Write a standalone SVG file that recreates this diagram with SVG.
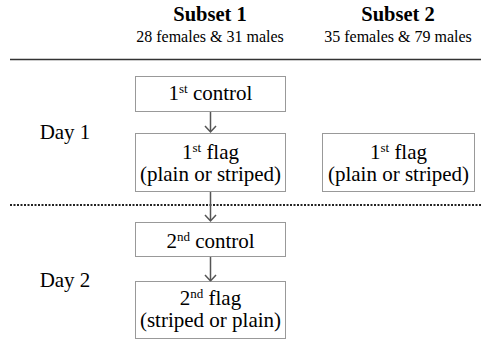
<svg xmlns="http://www.w3.org/2000/svg" width="481" height="346" viewBox="0 0 481 346">
<style>
text{font-family:"Liberation Serif","Times New Roman",serif;fill:#000}
.h{font-size:20.5px;font-weight:bold}
.s{font-size:16px}
.t{font-size:21px}
.p{font-size:21px}
.d{font-size:21px}
.sup{font-size:13px}
.box{fill:#fff;stroke:#333;stroke-width:1;stroke-dasharray:1 1}
.c{stroke:#555;stroke-width:1.5;fill:none}
</style>
<text class="h" x="210" y="21" text-anchor="middle">Subset 1</text>
<text class="s" x="210" y="42" text-anchor="middle">28 females &amp; 31 males</text>
<text class="h" x="398" y="21" text-anchor="middle">Subset 2</text>
<text class="s" x="398" y="42" text-anchor="middle">35 females &amp; 79 males</text>
<line x1="10" y1="59.5" x2="481" y2="59.5" stroke="#333" stroke-width="1.5"/>
<line x1="10" y1="205" x2="481" y2="205" stroke="#222" stroke-width="2" stroke-dasharray="2 1.5"/>
<text class="d" x="65" y="139" text-anchor="middle">Day 1</text>
<text class="d" x="65" y="287" text-anchor="middle">Day 2</text>
<g id="connectors">
<path class="c" d="M210.5 112V132M205 126L210.5 132L216 126"/>
<path class="c" d="M210.5 192V221M205 215L210.5 221L216 215"/>
<path class="c" d="M210.5 257V281M205 275L210.5 281L216 275"/>
</g>
<g id="n1"><rect class="box" x="135.5" y="76.5" width="150" height="35"/>
<text class="t" x="210.5" y="100" text-anchor="middle">1<tspan class="sup" dy="-7">st</tspan><tspan dy="7"> control</tspan></text></g>
<g id="n2"><rect class="box" x="135.5" y="133.5" width="150" height="58"/>
<text class="t" x="210.5" y="159" text-anchor="middle">1<tspan class="sup" dy="-7">st</tspan><tspan dy="7"> flag</tspan></text>
<text class="p" x="210.5" y="181" text-anchor="middle">(plain or striped)</text></g>
<g id="n3"><rect class="box" x="322.5" y="133.5" width="152" height="58"/>
<text class="t" x="398.5" y="159" text-anchor="middle">1<tspan class="sup" dy="-7">st</tspan><tspan dy="7"> flag</tspan></text>
<text class="p" x="398.5" y="181" text-anchor="middle">(plain or striped)</text></g>
<g id="n4"><rect class="box" x="135.5" y="222.5" width="150" height="34"/>
<text class="t" x="210.5" y="248" text-anchor="middle">2<tspan class="sup" dy="-7">nd</tspan><tspan dy="7"> control</tspan></text></g>
<g id="n5"><rect class="box" x="135.5" y="281.5" width="150" height="57"/>
<text class="t" x="210.5" y="305" text-anchor="middle">2<tspan class="sup" dy="-7">nd</tspan><tspan dy="7"> flag</tspan></text>
<text class="p" x="210.5" y="327" text-anchor="middle">(striped or plain)</text></g>
</svg>
